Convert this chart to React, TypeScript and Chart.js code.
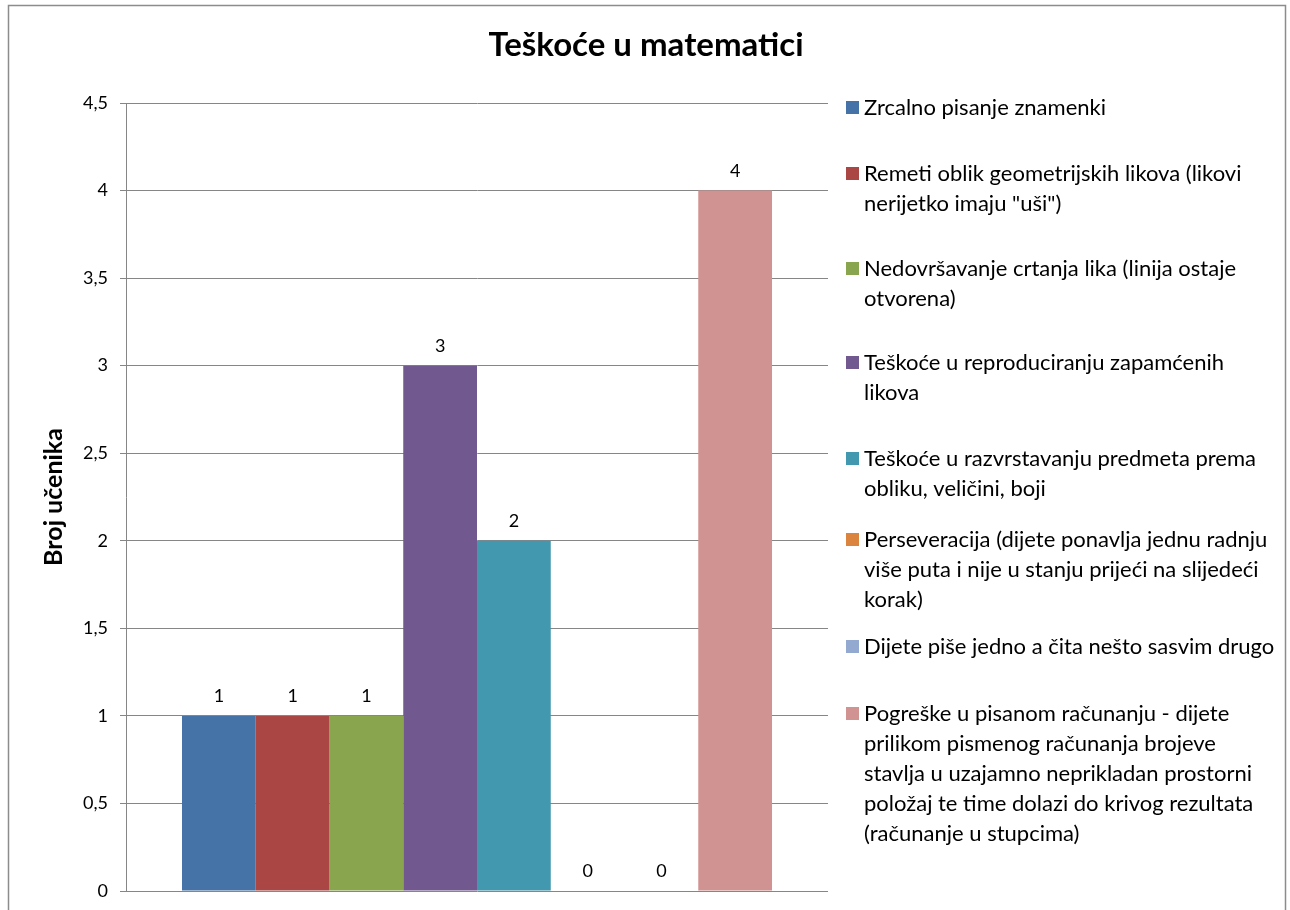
import React, { useEffect, useRef } from "react";
import { Chart, registerables } from "chart.js";

Chart.register(...registerables);

const TITLE = "Teškoće u matematici";
const Y_TITLE = "Broj učenika";
const CATEGORIES = [""];
const SERIES_LINES: string[][] = [
  ["Zrcalno pisanje znamenki"],
  ["Remeti oblik geometrijskih likova (likovi", "nerijetko imaju \"uši\")"],
  ["Nedovršavanje crtanja lika (linija ostaje", "otvorena)"],
  ["Teškoće u reproduciranju zapamćenih", "likova"],
  ["Teškoće u razvrstavanju predmeta prema", "obliku, veličini, boji"],
  ["Perseveracija (dijete ponavlja jednu radnju", "više puta i nije u stanju prijeći na slijedeći", "korak)"],
  ["Dijete piše jedno a čita nešto sasvim drugo"],
  [
    "Pogreške u pisanom računanju - dijete",
    "prilikom pismenog računanja brojeve",
    "stavlja u uzajamno neprikladan prostorni",
    "položaj te time dolazi do krivog rezultata",
    "(računanje u stupcima)",
  ],
];
const SERIES_VALUES = [1, 1, 1, 3, 2, 0, 0, 4];
const SERIES_COLORS = ["#4572A7", "#AA4643", "#89A54E", "#71588F", "#4198AF", "#DB843D", "#93A9CF", "#D19392"];
const Y_MIN = 0;
const Y_MAX = 4.5;
const Y_STEP = 0.5;

// layout (legend first-line centres)
const LEGEND_LINE_Y = [107, 173, 268, 362, 458, 539, 646, 713];
const LEGEND_LINE_H = 30;
const FONT = "Lato, 'Open Sans', sans-serif";

const fmt = (v: number) => String(v).replace(".", ",");

const decorPlugin = {
  id: "decor",
  beforeDraw(chart: any) {
    const ctx = chart.ctx;
    ctx.save();
    ctx.fillStyle = "#ffffff";
    ctx.fillRect(0, 0, chart.width, chart.height);
    ctx.strokeStyle = "#8c8c8c";
    ctx.lineWidth = 1.5;
    ctx.strokeRect(8.5, 5.5, 1277, 930);
    ctx.restore();
  },
  afterDraw(chart: any) {
    const ctx = chart.ctx;
    ctx.save();
    // title
    ctx.fillStyle = "#000";
    ctx.font = `bold 33px ${FONT}`;
    ctx.textAlign = "center";
    ctx.textBaseline = "alphabetic";
    ctx.fillText(TITLE, 646, 56);
    // y title
    ctx.save();
    ctx.translate(62, 497);
    ctx.rotate(-Math.PI / 2);
    ctx.font = `bold 25px ${FONT}`;
    ctx.textAlign = "center";
    ctx.fillText(Y_TITLE, 0, 0);
    ctx.restore();
    // data labels
    ctx.font = `18px ${FONT}`;
    ctx.textAlign = "center";
    ctx.textBaseline = "alphabetic";
    chart.data.datasets.forEach((ds: any, i: number) => {
      const meta = chart.getDatasetMeta(i);
      meta.data.forEach((el: any, j: number) => {
        ctx.fillText(fmt(ds.data[j]), el.x, el.y - 14);
      });
    });
    // legend
    ctx.font = `22px ${FONT}`;
    ctx.textAlign = "left";
    ctx.textBaseline = "middle";
    SERIES_LINES.forEach((lines, i) => {
      const y0 = LEGEND_LINE_Y[i];
      ctx.fillStyle = SERIES_COLORS[i];
      ctx.fillRect(846, y0 - 6, 13, 13);
      ctx.fillStyle = "#000";
      lines.forEach((ln, k) => {
        ctx.fillText(ln, 864, y0 + k * LEGEND_LINE_H + 1);
      });
    });
    ctx.restore();
  },
};

export default function App() {
  const ref = useRef<HTMLCanvasElement>(null);
  useEffect(() => {
    if (!ref.current) return;
    const chart = new Chart(ref.current, {
      type: "bar",
      data: {
        labels: CATEGORIES,
        datasets: SERIES_LINES.map((lines, i) => ({
          label: lines.join(" "),
          data: [SERIES_VALUES[i]],
          backgroundColor: SERIES_COLORS[i],
          borderWidth: 0,
          categoryPercentage: 0.8405,
          barPercentage: 1,
        })),
      },
      options: {
        animation: false,
        responsive: false,
        devicePixelRatio: 1,
        layout: { padding: { left: 0, top: 103, right: 462, bottom: 19 } },
        plugins: {
          legend: { display: false },
          title: { display: false },
          tooltip: { enabled: false },
        },
        scales: {
          x: {
            display: false,
          },
          y: {
            min: Y_MIN,
            max: Y_MAX,
            ticks: {
              stepSize: Y_STEP,
              padding: 12,
              color: "#000",
              font: { family: FONT, size: 18 },
              callback: (v: any) => fmt(Number(v)),
            },
            grid: { color: "#868686", tickLength: 6, lineWidth: 1 },
            border: { color: "#868686", width: 1 },
            afterFit: (s: any) => {
              s.width = 126;
              s.paddingTop = 0;
              s.paddingBottom = 0;
            },
          },
        },
      },
      plugins: [decorPlugin],
    });
    return () => chart.destroy();
  }, []);
  return (
    <div style={{ position: "absolute", left: 0, top: 0, width: 1290, height: 910 }}>
      <canvas ref={ref} width={1290} height={910} style={{ display: "block" }} />
    </div>
  );
}
